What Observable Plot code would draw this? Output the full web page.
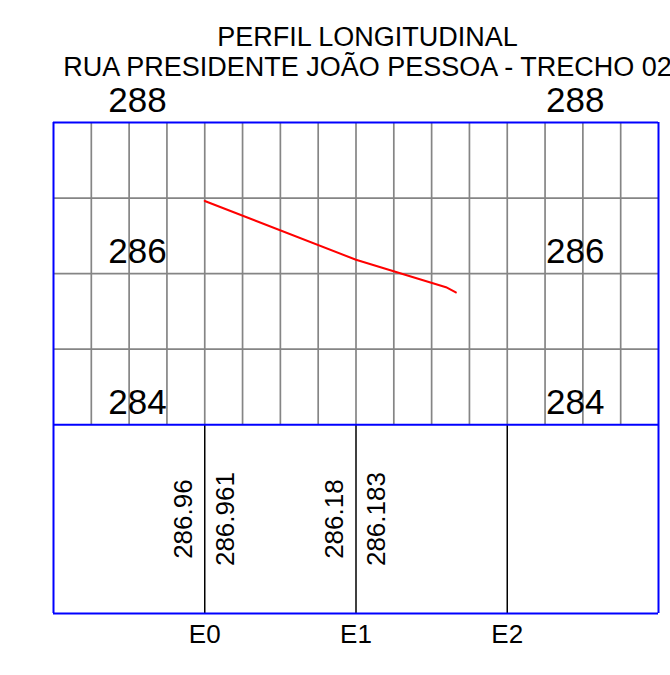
<!DOCTYPE html>
<html>
<head>
<meta charset="utf-8">
<script src="https://cdn.jsdelivr.net/npm/d3@7"></script>
<script src="https://cdn.jsdelivr.net/npm/@observablehq/plot@0.6"></script>
<style>
  html, body { margin: 0; padding: 0; background: #fff; overflow: hidden; }
  #wrap { position: relative; width: 670px; height: 675px; overflow: hidden; }
  #title { position: absolute; left: 367.5px; top: 0; transform: translateX(-50%); white-space: nowrap;
           font-family: "Liberation Sans", Arial, sans-serif; font-size: 27px; text-align: center; color: #000; }
  #title div { height: 30px; }
  #title .l1 { position: absolute; left: 50%; transform: translateX(-50%); top: 22px; }
  #title .l2 { position: relative; top: 52px; }
  #chart { position: absolute; left: 0; top: 0; }
</style>
</head>
<body>
<div id="wrap">
  <div id="chart"></div>
  <div id="title"><div class="l1">PERFIL LONGITUDINAL</div><div class="l2">RUA PRESIDENTE JOÃO PESSOA - TRECHO 02</div></div>
</div>
<script>
// Stations (distance in m) and names
const stations = [0, 20, 40];
const stationNames = ["E0", "E1", "E2"];
// Horizontal extent of the profile sheet (m)
const xDomain = [-20, 60];
const gridStep = 5;
// Elevation extent of profile grid and label elevations
const elevMin = 284, elevMax = 288;
const elevLabels = [284, 286, 288];
const bandBottom = 281.5; // lower edge of the data band below the profile
// Profile (red line): distance, elevation
const profileX = [0, 20, 31.9, 33.2];
const profileY = [286.961, 286.183, 285.82, 285.75];
// Elevation annotations in band: station, offset side, text
const annStation = [0, 0, 20, 20];
const annSide = [-1, 1, -1, 1];
const annText = ["286.96", "286.961", "286.18", "286.183"];

const gridX = d3.range(xDomain[0] + gridStep, xDomain[1], gridStep);
const gridY = d3.range(elevMin + 1, elevMax, 1);
const profile = profileX.map((x, i) => ({x, y: profileY[i]}));
const ann = annText.map((t, i) => ({x: annStation[i], side: annSide[i], t}));
const bandMid = (elevMin + bandBottom) / 2;
const labelPos = [xDomain[0] + 11.1, xDomain[1] - 11];
const elevLab = [];
for (const e of elevLabels) for (const x of labelPos) elevLab.push({x, e});

const font = "Liberation Sans, Arial, sans-serif";
const plot = Plot.plot({
  width: 670,
  height: 675,
  marginTop: 122,
  marginBottom: 62,
  marginLeft: 53,
  marginRight: 12,
  style: {fontFamily: font, background: "white", color: "black"},
  x: {domain: xDomain},
  y: {domain: [bandBottom, elevMax], axis: null},
  marks: [
    Plot.ruleX(gridX, {y1: elevMin, y2: elevMax, stroke: "#858585", strokeWidth: 1.7}),
    Plot.ruleY(gridY, {x1: xDomain[0], x2: xDomain[1], stroke: "#858585", strokeWidth: 1.7}),
    Plot.ruleX(stations, {y1: bandBottom, y2: elevMin, stroke: "black", strokeWidth: 1.5}),
    Plot.ruleY([elevMax, elevMin, bandBottom], {x1: xDomain[0], x2: xDomain[1], stroke: "#0000ff", strokeWidth: 2}),
    Plot.ruleX(xDomain, {y1: bandBottom, y2: elevMax, stroke: "#0000ff", strokeWidth: 2}),
    Plot.line(profile, {x: "x", y: "y", stroke: "#ff0000", strokeWidth: 2}),
    Plot.text(elevLab, {x: "x", y: "e", text: d => String(d.e), fontSize: 35, lineAnchor: "bottom", dy: -11, fill: "black", fontFamily: font}),
    Plot.text(ann.filter(d => d.side < 0), {x: "x", y: () => bandMid, text: "t", rotate: -90, fontSize: 26, dx: -21, fill: "black", fontFamily: font}),
    Plot.text(ann.filter(d => d.side > 0), {x: "x", y: () => bandMid, text: "t", rotate: -90, fontSize: 26, dx: 21, fill: "black", fontFamily: font}),
    Plot.axisX(stations, {tickFormat: (d, i) => stationNames[stations.indexOf(d)], tickSize: 0, tickPadding: 11, fontSize: 26, label: null, fontFamily: font})
  ]
});
document.getElementById("chart").appendChild(plot);
</script>
</body>
</html>
